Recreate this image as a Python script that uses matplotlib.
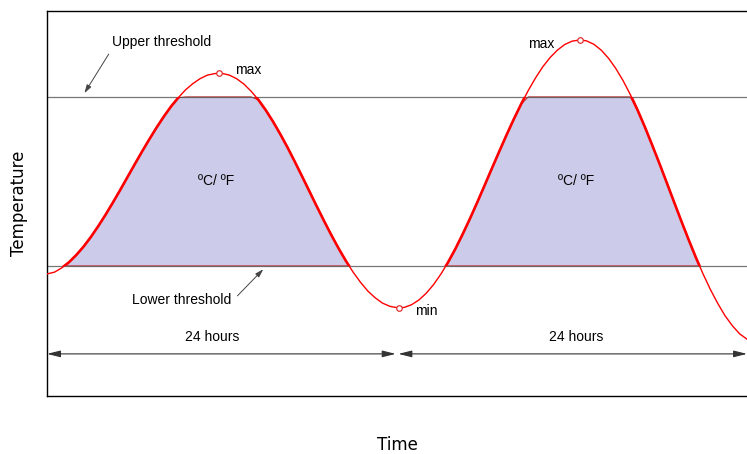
import matplotlib
matplotlib.use('Agg')
import matplotlib.pyplot as plt
import numpy as np
from matplotlib.patches import Rectangle

# hours since start and temperature (arbitrary units)
hours = [0, 0.5, 1, 1.5, 2, 2.5, 3, 3.5, 4, 4.5, 5, 5.5, 6, 6.5, 7, 7.5, 8, 8.5,
         9, 9.5, 10, 10.5, 11, 11.5, 11.79, 12, 12.5, 13, 13.5, 14, 14.5, 15,
         15.5, 16, 16.5, 17, 17.5, 18, 18.5, 19, 19.5, 20, 20.5, 21, 21.5, 22,
         22.5, 23, 23.5, 24, 24.14, 24.5, 25, 25.5, 26, 26.5, 27, 27.5, 28, 28.5,
         29, 29.5, 30, 30.5, 31, 31.5, 32, 32.5, 33, 33.5, 34, 34.5, 35, 35.5,
         36, 36.55, 37, 37.5, 38, 38.5, 39, 39.5, 40, 40.5, 41, 41.5, 42, 42.5,
         43, 43.5, 44, 44.5, 45, 45.5, 46, 46.5, 47, 47.5, 48]
temp = [122, 123.7, 127.9, 133.6, 140.8, 149.2, 158.8, 169.5, 180.9, 193.0,
        205.5, 218.4, 231.3, 244.0, 256.3, 268.1, 279.2, 289.4, 298.2, 306.1,
        312.3, 317.3, 320.8, 322.3, 322.7, 322.5, 320.8, 317.2, 311.8, 304.6,
        295.9, 285.7, 274.2, 261.6, 248.2, 233.9, 219.2, 204.3, 189.4, 174.8,
        160.7, 147.3, 134.8, 123.5, 113.5, 104.8, 98.1, 92.8, 89.6, 88.2, 88.0,
        88.5, 91.2, 95.9, 102.6, 111.2, 121.6, 133.6, 147.0, 161.7, 177.2, 193.5,
        210.3, 227.3, 244.1, 260.6, 276.5, 291.5, 305.4, 318.0, 329.2, 338.4,
        345.8, 351.4, 354.7, 356.0, 355.0, 351.6, 345.8, 337.7, 327.5, 315.3,
        301.3, 285.7, 268.8, 250.7, 232.2, 213.1, 193.8, 174.7, 156.1, 138.2,
        121.5, 106.1, 92.3, 80.0, 70.1, 62.0, 56.7]
upper = 299
lower = 130
ext_h = [11.79, 24.14, 36.55]
ext_t = [322.7, 88.0, 356.0]
ext_lbl = ['max', 'min', 'max']

h = np.array(hours)
t = np.array(temp)

fig = plt.figure(figsize=(7.47, 4.54), dpi=100)
ax = fig.add_axes([0.063, 0.128, 0.937, 0.848])
ax.set_xlim(0, 48)
ax.set_ylim(0, 385)

ax.fill_between(h, lower, np.minimum(t, upper), where=t >= lower, interpolate=True,
                facecolor='#ccccea', edgecolor='#c02020', lw=0.7, zorder=1)
ax.axhline(upper, color='#555555', lw=0.9, alpha=0.8, zorder=2)
ax.axhline(lower, color='#555555', lw=0.9, alpha=0.8, zorder=2)

ax.plot(h, t, color='red', lw=1.0, zorder=3)
thick, = ax.plot(h, t, color='red', lw=1.9, zorder=3)
thick.set_clip_path(Rectangle((0, lower), 48, upper - lower, transform=ax.transData))
ax.plot(ext_h, ext_t, 'o', ms=4, mfc='white', mec='#e03030', mew=0.9, zorder=4)

tf = 'Liberation Sans'
ax.text(12.9, 326, ext_lbl[0], fontsize=10, family=tf, va='center')
ax.text(25.25, 85, ext_lbl[1], fontsize=10, family=tf, va='center')
ax.text(34.8, 352, ext_lbl[2], fontsize=10, family=tf, va='center', ha='right')

ax.text(11.6, 215, 'ºC/ ºF', fontsize=10, family=tf, ha='center', va='center')
ax.text(36.3, 215, 'ºC/ ºF', fontsize=10, family=tf, ha='center', va='center')

ax.annotate('Upper threshold', xy=(2.56, 302.7), xytext=(4.45, 354), fontsize=10,
            family=tf, va='center',
            arrowprops=dict(arrowstyle='-|>,head_length=0.5,head_width=0.15',
                            color='#444444', lw=0.7, shrinkA=2, shrinkB=0,
                            relpos=(0, 0)))
ax.annotate('Lower threshold', xy=(14.83, 126.7), xytext=(12.6, 96), fontsize=10,
            family=tf, va='center', ha='right',
            arrowprops=dict(arrowstyle='-|>,head_length=0.5,head_width=0.15',
                            color='#444444', lw=0.7, shrinkA=4, shrinkB=0,
                            relpos=(1, 0.3)))

ax.annotate('', xy=(0, 42), xytext=(24, 42),
            arrowprops=dict(arrowstyle='<|-|>,head_length=0.8,head_width=0.2',
                            color='#333333', lw=0.8, shrinkA=1, shrinkB=0))
ax.annotate('', xy=(24, 42), xytext=(48, 42),
            arrowprops=dict(arrowstyle='<|-|>,head_length=0.8,head_width=0.2',
                            color='#333333', lw=0.8, shrinkA=0, shrinkB=1))
ax.text(11.3, 59, '24 hours', fontsize=10, family=tf, ha='center', va='center')
ax.text(36.3, 59, '24 hours', fontsize=10, family=tf, ha='center', va='center')

ax.set_xticks([])
ax.set_yticks([])
ax.spines['right'].set_visible(False)
for s in ['left', 'top', 'bottom']:
    ax.spines[s].set_linewidth(1.0)
ax.set_xlabel('Time', fontsize=12, labelpad=29)
ax.set_ylabel('Temperature', fontsize=12, labelpad=14)

plt.savefig('out.png', dpi=100)
